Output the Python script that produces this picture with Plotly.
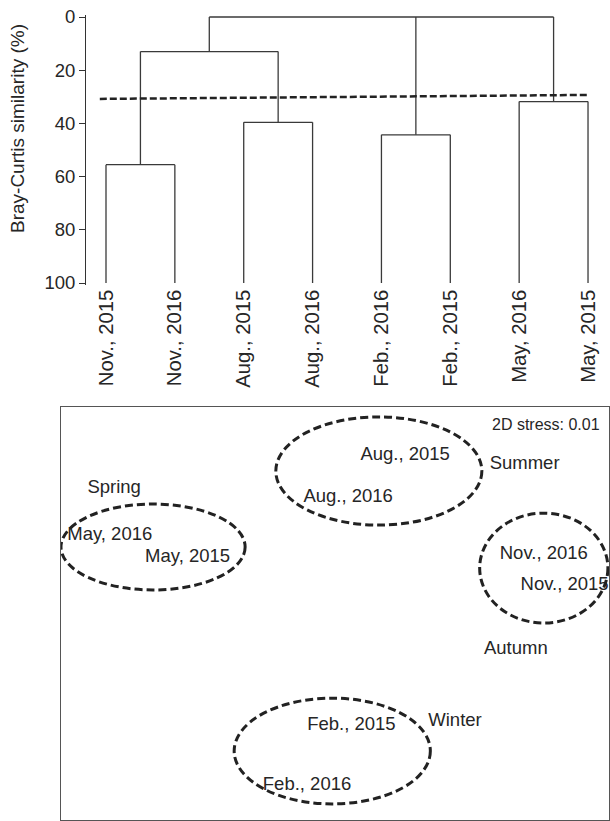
import plotly.graph_objects as go

# ---------------- data ----------------
leaves = ["Nov., 2015", "Nov., 2016", "Aug., 2015", "Aug., 2016",
          "Feb., 2016", "Feb., 2015", "May, 2016", "May, 2015"]
pair_sim = [55.5, 39.6, 44.3, 31.8]        # similarity at which each sampling-pair joins
novaug_sim = 13.0                          # Nov + Aug clusters join
root_sim = 0.0                             # all clusters join
cut_x = [-0.09, 6.99]
cut_sim = [30.8, 29.3]
y_ticks = [0, 20, 40, 60, 80, 100]

# NMDS ordination (arbitrary units)
samples = ["Aug., 2015", "Aug., 2016", "May, 2016", "May, 2015",
           "Nov., 2016", "Nov., 2015", "Feb., 2015", "Feb., 2016"]
nmds1 = [62.8, 52.4, 8.9, 23.1, 88.1, 91.9, 53.0, 44.9]
nmds2 = [88.4, 78.0, 68.8, 63.7, 64.4, 56.9, 22.8, 8.5]

seasons = ["Spring", "Summer", "Autumn", "Winter"]
season_lx = [9.7, 84.6, 83.0, 71.9]
season_ly = [80.4, 86.2, 41.2, 23.8]
ell_cx = [16.8, 58.0, 88.1, 49.5]
ell_cy = [66.1, 84.5, 61.0, 16.7]
ell_rx = [16.8, 18.8, 11.7, 17.9]
ell_ry = [10.4, 13.1, 13.3, 12.8]
stress_text = "2D stress: 0.01"

# ---------------- layout helpers ----------------
W, H = 610, 821
FONT = "Liberation Sans, Arial, Helvetica, sans-serif"
TXT = "#262626"

def px_x(p):
    return p / W

def px_y(p):
    return 1 - p / H

# ---------------- dendrogram segments ----------------
dx, dy = [], []
def seg(x0, y0, x1, y1):
    dx.extend([x0, x1, None])
    dy.extend([y0, y1, None])

centers = []
for k, h in enumerate(pair_sim):
    a, b = 2 * k, 2 * k + 1
    seg(a, 100, a, h)
    seg(a, h, b, h)
    seg(b, h, b, 100)
    centers.append((a + b) / 2)

# Nov + Aug
seg(centers[0], pair_sim[0], centers[0], novaug_sim)
seg(centers[0], novaug_sim, centers[1], novaug_sim)
seg(centers[1], novaug_sim, centers[1], pair_sim[1])
c_na = (centers[0] + centers[1]) / 2
# root
seg(c_na, novaug_sim, c_na, root_sim)
seg(centers[2], pair_sim[2], centers[2], root_sim)
seg(centers[3], pair_sim[3], centers[3], root_sim)
seg(c_na, root_sim, centers[3], root_sim)

fig = go.Figure()
fig.add_trace(go.Scatter(x=dx, y=dy, mode="lines",
                         line=dict(color="#3a3a3a", width=1.3),
                         xaxis="x", yaxis="y", hoverinfo="skip", showlegend=False))
fig.add_trace(go.Scatter(x=cut_x, y=cut_sim, mode="lines",
                         line=dict(color="#222222", width=2.5, dash="7px,3px"),
                         xaxis="x", yaxis="y", hoverinfo="skip", showlegend=False))

# NMDS sample labels
fig.add_trace(go.Scatter(x=nmds1, y=nmds2, mode="text", text=samples,
                         textposition="middle center",
                         textfont=dict(family=FONT, size=18.5, color=TXT),
                         xaxis="x2", yaxis="y2", hoverinfo="skip", showlegend=False,
                         cliponaxis=False))
fig.add_trace(go.Scatter(x=season_lx, y=season_ly, mode="text", text=seasons,
                         textposition="middle center",
                         textfont=dict(family=FONT, size=18.5, color=TXT),
                         xaxis="x2", yaxis="y2", hoverinfo="skip", showlegend=False,
                         cliponaxis=False))

shapes = []
for cx, cy, rx, ry in zip(ell_cx, ell_cy, ell_rx, ell_ry):
    shapes.append(dict(type="circle", xref="x2", yref="y2",
                       x0=cx - rx, x1=cx + rx, y0=cy - ry, y1=cy + ry,
                       line=dict(color="#222222", width=3, dash="8px,4px")))

# y-range padding so the root line isn't clipped
ypad = 0.6
top_px0 = 17 - ypad * 2.66
top_px1 = 283 + ypad * 2.66
x_lo = (86 - 106) / 68.86
x_hi = (605 - 106) / 68.86

fig.update_layout(
    width=W, height=H,
    margin=dict(l=0, r=0, t=0, b=0, autoexpand=False),
    paper_bgcolor="white", plot_bgcolor="white",
    font=dict(family=FONT, color=TXT),
    shapes=shapes,
    xaxis=dict(domain=[px_x(86), px_x(605)], range=[x_lo, x_hi],
               tickmode="array", tickvals=list(range(len(leaves))), ticktext=leaves,
               tickangle=-90, showline=False, showgrid=False, zeroline=False,
               ticks="", tickfont=dict(family=FONT, size=20.3, color=TXT),
               automargin=False, anchor="y"),
    yaxis=dict(domain=[px_y(top_px1), px_y(top_px0)], range=[100 + ypad, -ypad],
               tickmode="array", tickvals=y_ticks,
               showline=True, linecolor="#333333", linewidth=1,
               ticks="outside", ticklen=6, tickcolor="#333333",
               showgrid=False, zeroline=False, automargin=False,
               tickfont=dict(family=FONT, size=18.5, color=TXT), anchor="x"),
    xaxis2=dict(domain=[px_x(61), px_x(609)], range=[0, 100],
                showticklabels=False, ticks="", showgrid=False, zeroline=False,
                showline=True, mirror=True, linecolor="#555555", linewidth=1,
                automargin=False, anchor="y2"),
    yaxis2=dict(domain=[px_y(820), px_y(407)], range=[0, 100],
                showticklabels=False, ticks="", showgrid=False, zeroline=False,
                showline=True, mirror=True, linecolor="#555555", linewidth=1,
                automargin=False, anchor="x2"),
    annotations=[
        dict(text="Bray-Curtis similarity (%)", textangle=-90,
             xref="paper", yref="paper", x=px_x(17), y=px_y(129),
             xanchor="center", yanchor="middle", showarrow=False,
             font=dict(family=FONT, size=19, color=TXT)),
        dict(text=stress_text, xref="x2", yref="y2", x=98.7, y=95.8,
             xanchor="right", yanchor="middle", showarrow=False,
             font=dict(family=FONT, size=16, color=TXT)),
    ],
)

fig.write_html("out.html", config={"displayModeBar": False},
               post_script="document.body.style.margin='0';document.body.style.overflow='hidden';")
